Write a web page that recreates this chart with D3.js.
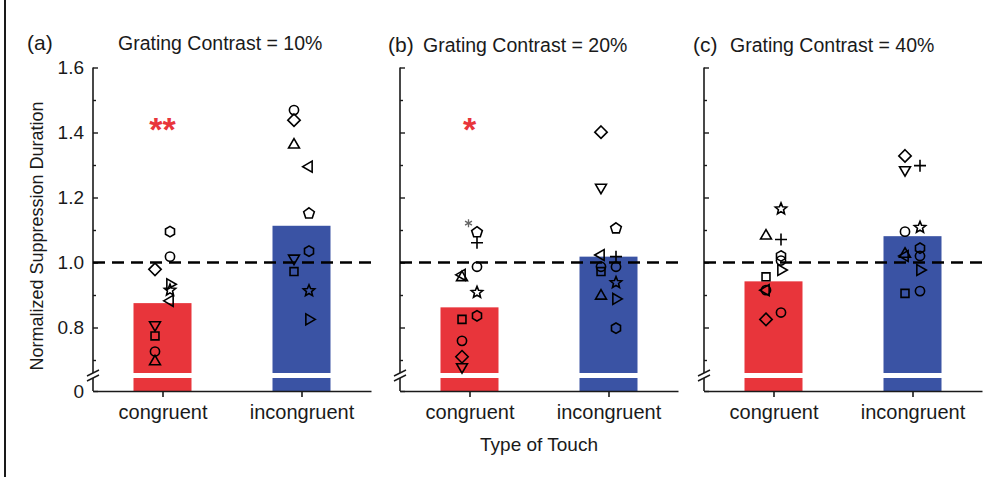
<!DOCTYPE html>
<html>
<head>
<meta charset="utf-8">
<script src="https://cdn.jsdelivr.net/npm/d3@7"></script>
<style>
  body { margin: 0; background: #fff; }
  svg { display: block; font-family: "Liberation Sans", Arial, sans-serif; }
</style>
</head>
<body>
<svg width="1004" height="477"></svg>
<script>
// ---- data ----
const categories = ["congruent", "incongruent"];
const panelLabels = ["(a)", "(b)", "(c)"];
const contrasts = ["10%", "20%", "40%"];
const barMeans = [[0.875, 1.113], [0.862, 1.018], [0.942, 1.081]];
const significance = ["**", "*", ""];
const majorTicks = [0, 0.8, 1.0, 1.2, 1.4, 1.6];
const minorTicks = [0.7, 0.9, 1.1, 1.3, 1.5];

// individual subjects: [category index, shape, column (L/R), value]
const pointsA = [
  [0, "hexagon", "R", 1.095], [0, "circle", "R", 1.018], [0, "diamond", "L", 0.979],
  [0, "triRight", "R", 0.933], [0, "star", "R", 0.915], [0, "triLeft", "R", 0.882],
  [0, "triDown", "L", 0.808], [0, "square", "L", 0.774], [0, "circle", "L", 0.726],
  [0, "triUp", "L", 0.695],
  [1, "circle", "L", 1.469], [1, "diamond", "L", 1.438], [1, "triUp", "L", 1.362],
  [1, "triLeft", "R", 1.295], [1, "pentagon", "R", 1.151], [1, "hexagon", "R", 1.035],
  [1, "triDown", "L", 1.013], [1, "square", "L", 0.972], [1, "star", "R", 0.913],
  [1, "triRight", "R", 0.825]
];
const pointsB = [
  [0, "asterisk", "C", 1.121], [0, "pentagon", "R", 1.093], [0, "plus", "R", 1.061],
  [0, "circle", "R", 0.987], [0, "triLeft", "L", 0.962], [0, "triUp", "L", 0.954],
  [0, "star", "R", 0.908], [0, "hexagon", "R", 0.836], [0, "square", "L", 0.825],
  [0, "circle", "L", 0.759], [0, "diamond", "L", 0.710], [0, "triDown", "L", 0.679],
  [1, "diamond", "L", 1.401], [1, "triDown", "L", 1.231], [1, "pentagon", "R", 1.105],
  [1, "triLeft", "L", 1.023], [1, "plus", "R", 1.018], [1, "circle", "R", 0.987],
  [1, "circle", "L", 0.987], [1, "square", "L", 0.972], [1, "star", "R", 0.938],
  [1, "triUp", "L", 0.897], [1, "triRight", "R", 0.888], [1, "hexagon", "R", 0.798]
];
const pointsC = [
  [0, "star", "R", 1.165], [0, "triUp", "L", 1.082], [0, "plus", "R", 1.071],
  [0, "hexagon", "R", 1.020], [0, "circle", "R", 1.006], [0, "triRight", "R", 0.977],
  [0, "square", "L", 0.956], [0, "triLeft", "L", 0.915], [0, "circle", "L", 0.915],
  [0, "circle", "R", 0.846], [0, "diamond", "L", 0.825],
  [1, "diamond", "L", 1.328], [1, "plus", "R", 1.298], [1, "triDown", "L", 1.285],
  [1, "star", "R", 1.108], [1, "circle", "L", 1.095], [1, "hexagon", "R", 1.044],
  [1, "triUp", "L", 1.026], [1, "triLeft", "L", 1.020], [1, "circle", "R", 1.020],
  [1, "triRight", "R", 0.977], [1, "square", "L", 0.905], [1, "circle", "R", 0.912]
];
const panelPoints = [pointsA, pointsB, pointsC];

// ---- layout ----
const axisLefts = [93, 400, 704];
const axisLen = 278;
const barWidth = 58;
const breakVal = 0.66;
const red = "#e8353b", blue = "#3a53a4", ink = "#1a1a1a";
const labelX = [-66, -12, -11], titleX = [25, 23, 26], titleY = [50, 52, 52];

const y = d3.scaleLinear().domain([0, breakVal, 1.6]).range([391, 373, 67.5]);
const x = d3.scalePoint().domain(categories).range([0, axisLen]).padding(0.5);

// marker shapes, size = radius
function poly(n, a0) {
  return { draw(c, r) {
    for (let i = 0; i < n; i++) {
      const a = a0 + i * 2 * Math.PI / n;
      i ? c.lineTo(r * Math.cos(a), r * Math.sin(a)) : c.moveTo(r * Math.cos(a), r * Math.sin(a));
    }
    c.closePath();
  }};
}
const deg = Math.PI / 180;
const shapes = {
  circle:   { type: { draw(c, r) { c.moveTo(r, 0); c.arc(0, 0, r, 0, 2 * Math.PI); } }, r: 4.6 },
  square:   { type: poly(4, 45 * deg), r: 5.6 },
  diamond:  { type: poly(4, -90 * deg), r: 6.2 },
  triUp:    { type: poly(3, -90 * deg), r: 6.3 },
  triDown:  { type: poly(3, 90 * deg), r: 6.3 },
  triLeft:  { type: poly(3, 180 * deg), r: 6.3 },
  triRight: { type: poly(3, 0), r: 6.3 },
  pentagon: { type: poly(5, -90 * deg), r: 5.6 },
  hexagon:  { type: poly(6, -90 * deg), r: 5.2 },
  star: { type: { draw(c, r) {
    for (let i = 0; i < 10; i++) {
      const a = -90 * deg + i * 36 * deg, rr = i % 2 ? r * 0.45 : r;
      i ? c.lineTo(rr * Math.cos(a), rr * Math.sin(a)) : c.moveTo(rr * Math.cos(a), rr * Math.sin(a));
    }
    c.closePath();
  } }, r: 6 },
  plus: { type: { draw(c, r) { c.moveTo(-r, 0); c.lineTo(r, 0); c.moveTo(0, -r); c.lineTo(0, r); } }, r: 6 },
  asterisk: { type: { draw(c, r) {
    for (let i = 0; i < 3; i++) {
      const a = -90 * deg + i * 60 * deg;
      c.moveTo(-r * Math.cos(a), -r * Math.sin(a)); c.lineTo(r * Math.cos(a), r * Math.sin(a));
    }
  } }, r: 4 }
};
const colOffset = { L: -7.5, R: 7.5, C: -1 };

const svg = d3.select("svg");

// figure frame edge
svg.append("line").attr("x1", 5).attr("x2", 5).attr("y1", 0).attr("y2", 477)
  .attr("stroke", ink).attr("stroke-width", 2);

// y axis title
svg.append("text")
  .attr("transform", `translate(43, ${y(1.1) + 6}) rotate(-90)`)
  .attr("text-anchor", "middle").attr("font-size", "18px").attr("fill", ink)
  .text("Normalized Suppression Duration");

// x axis title
svg.append("text")
  .attr("x", axisLefts[1] + axisLen / 2).attr("y", 451)
  .attr("text-anchor", "middle").attr("font-size", "19px").attr("fill", ink)
  .text("Type of Touch");

panelLabels.forEach((lab, p) => {
  const g = svg.append("g").attr("transform", `translate(${axisLefts[p]},0)`);
  const means = barMeans[p];

  // panel label and title
  g.append("text").attr("x", labelX[p]).attr("y", titleY[p])
    .attr("font-size", "21px").attr("fill", ink).text(lab);
  g.append("text").attr("x", titleX[p]).attr("y", titleY[p])
    .attr("font-size", "19.5px").attr("fill", ink).text("Grating Contrast = " + contrasts[p]);

  // bars
  g.selectAll("rect.bar").data(categories).enter().append("rect")
    .attr("class", "bar")
    .attr("x", d => x(d) - barWidth / 2)
    .attr("width", barWidth)
    .attr("y", (d, i) => y(means[i]))
    .attr("height", (d, i) => y(0) - y(means[i]))
    .attr("fill", (d, i) => i ? blue : red);

  // break gap through bars and axis
  g.append("rect").attr("x", -3).attr("width", axisLen)
    .attr("y", y(breakVal)).attr("height", 5).attr("fill", "#fff");

  // y axis line (two segments around the break)
  g.append("line").attr("x1", 0).attr("x2", 0).attr("y1", y(1.6)).attr("y2", y(breakVal))
    .attr("stroke", ink).attr("stroke-width", 1.6);
  g.append("line").attr("x1", 0).attr("x2", 0).attr("y1", y(breakVal) + 5).attr("y2", y(0))
    .attr("stroke", ink).attr("stroke-width", 1.6);
  [0, 5].forEach(o => {
    g.append("line").attr("x1", -6).attr("x2", 6)
      .attr("y1", y(breakVal) + o + 3).attr("y2", y(breakVal) + o - 3)
      .attr("stroke", ink).attr("stroke-width", 1.4);
  });

  // ticks pointing inward
  const major = g.append("g").call(d3.axisRight(y).tickValues(majorTicks).tickSize(5).tickFormat(""));
  const minor = g.append("g").call(d3.axisRight(y).tickValues(minorTicks).tickSize(3).tickFormat(""));
  [major, minor].forEach(a => {
    a.select(".domain").remove();
    a.selectAll("line").attr("stroke", ink).attr("stroke-width", 1.4);
  });

  // tick labels only on first panel
  if (p === 0) {
    const tl = g.append("g").call(d3.axisLeft(y).tickValues(majorTicks).tickSize(0).tickPadding(9)
      .tickFormat(d => d === 0 ? "0" : d.toFixed(1)));
    tl.select(".domain").remove();
    tl.selectAll("text").attr("font-size", "19px").attr("fill", ink)
      .attr("font-family", "Liberation Sans, Arial, sans-serif");
  }

  // x axis
  const xa = g.append("g").attr("transform", `translate(0,${y(0)})`)
    .call(d3.axisBottom(x).tickSize(6).tickPadding(8).tickSizeOuter(0));
  xa.select(".domain").attr("stroke", ink).attr("stroke-width", 1.6);
  xa.selectAll("line").attr("stroke", ink).attr("stroke-width", 1.6);
  xa.selectAll("text").attr("font-size", "20px").attr("fill", ink)
    .attr("font-family", "Liberation Sans, Arial, sans-serif");

  // reference line at 1.0
  g.append("line").attr("x1", 0).attr("x2", axisLen)
    .attr("y1", y(1)).attr("y2", y(1))
    .attr("stroke", "#000").attr("stroke-width", 2.6).attr("stroke-dasharray", "12,7");

  // subject markers
  g.selectAll("path.pt").data(panelPoints[p]).enter().append("path")
    .attr("class", "pt")
    .attr("transform", d => `translate(${x(categories[d[0]]) + colOffset[d[2]]},${y(d[3])})`)
    .attr("d", d => d3.symbol().type(shapes[d[1]].type).size(shapes[d[1]].r)())
    .attr("fill", "none")
    .attr("stroke", d => d[1] === "asterisk" ? "#666" : "#000")
    .attr("stroke-width", d => d[1] === "asterisk" ? 1.3 : 1.6)
    .attr("stroke-linejoin", "miter");

  // significance stars
  if (significance[p]) {
    g.append("text").attr("x", x(categories[0])).attr("y", 141)
      .attr("text-anchor", "middle").attr("font-size", "34px").attr("font-weight", "bold")
      .attr("fill", red).text(significance[p]);
  }
});
</script>
</body>
</html>
